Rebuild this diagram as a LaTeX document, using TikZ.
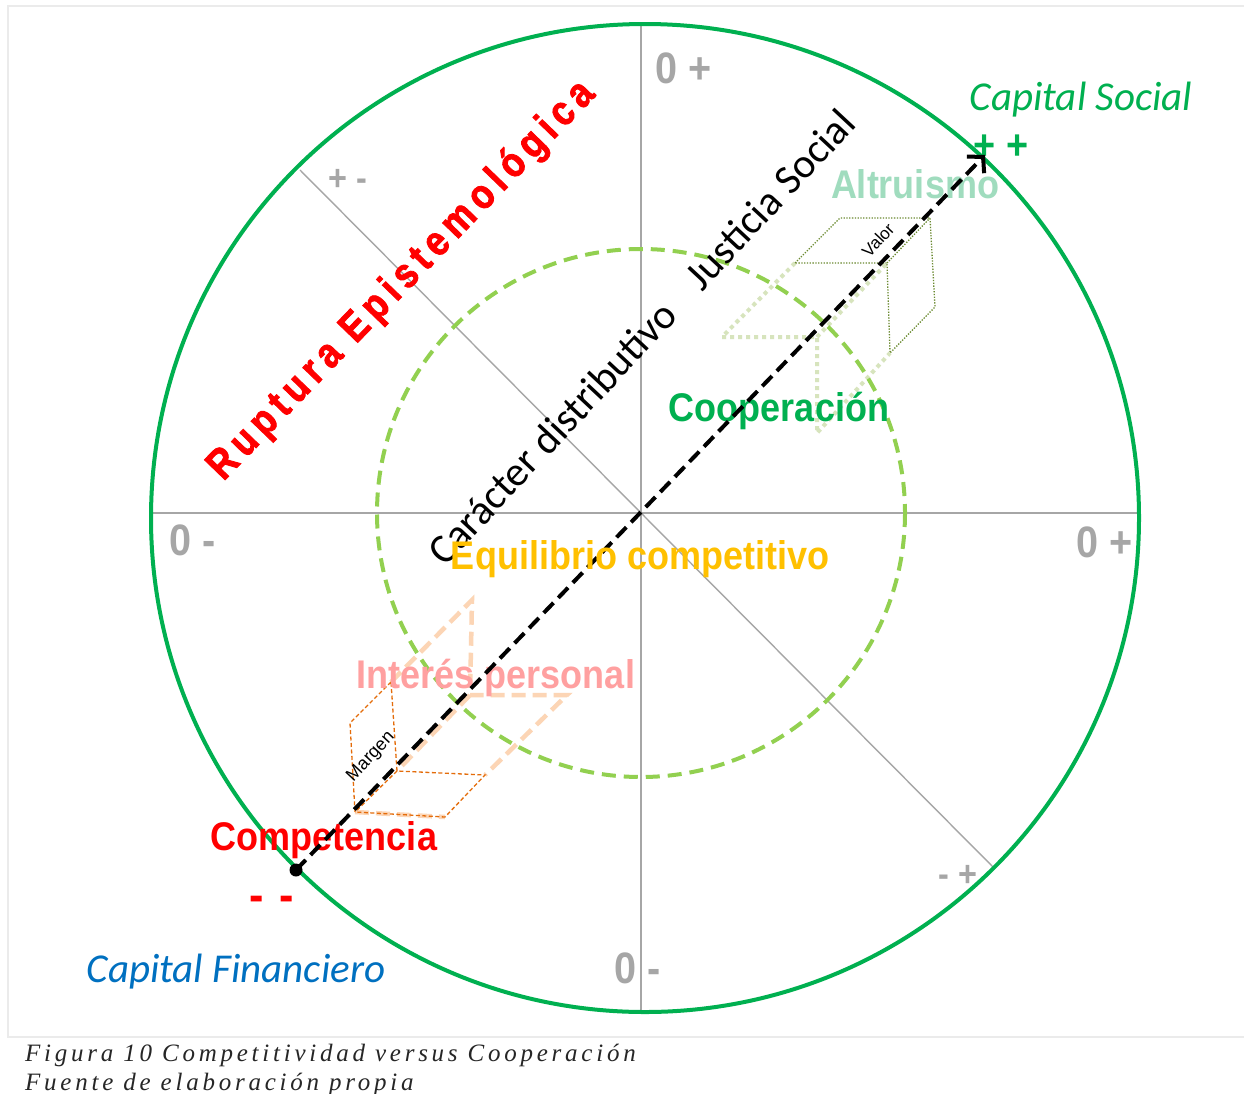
\documentclass[tikz,border=0pt]{standalone}
\usepackage{fontspec}
\usetikzlibrary{arrows.meta}
\setmainfont{Liberation Sans}
\newfontfamily\nbf[FakeStretch=0.9]{Liberation Sans}
\newfontfamily\carl{Carlito}
\newfontfamily\rupf[FakeStretch=0.85,LetterSpace=15,FakeBold=2]{Liberation Sans}
\newfontfamily\captf[LetterSpace=15]{Liberation Serif}
\definecolor{cgreen}{HTML}{00B050}
\definecolor{lgreen}{HTML}{92D050}
\definecolor{axgray}{HTML}{A6A6A6}
\definecolor{labgray}{HTML}{A6A6A6}
\definecolor{altru}{RGB}{160,220,190}
\definecolor{equi}{HTML}{FFC000}
\definecolor{inter}{RGB}{255,160,160}
\definecolor{cblue}{HTML}{0070C0}
\definecolor{olive}{HTML}{6B8A30}
\definecolor{paleolive}{HTML}{D7E4BD}
\definecolor{orng}{HTML}{E46C0A}
\definecolor{paleorng}{HTML}{FCD5B5}
\definecolor{framegray}{HTML}{EBEBEB}
\definecolor{captcol}{HTML}{262626}
\begin{document}
\begin{tikzpicture}[x=1pt,y=-1pt,
  lab/.style={font=\nbf\bfseries\fontsize{40}{44}\selectfont, inner sep=0pt, anchor=base},
  axlab/.style={font=\nbf\bfseries\fontsize{44}{48}\selectfont, inner sep=0pt, anchor=base, text=labgray},
  sign/.style={font=\nbf\bfseries\fontsize{36}{40}\selectfont, inner sep=0pt, anchor=base, text=labgray},
  capt/.style={font=\carl\itshape\fontsize{41}{45}\selectfont, inner sep=0pt, anchor=base},
  axline/.style={draw=axgray, line width=1.4},
  thinolive/.style={draw=olive, line width=1.3, dash pattern=on 1.3 off 1.5},
  paleolivel/.style={draw=paleolive, line width=4, dash pattern=on 4 off 4},
  thinorng/.style={draw=orng, line width=1.3, dash pattern=on 4 off 2.5},
  paleorngl/.style={draw=paleorng, line width=4.5, dash pattern=on 14 off 7},
  captline/.style={font=\captf\itshape\fontsize{25}{29}\selectfont, inner sep=0pt, anchor=base west, text=captcol}
]
\useasboundingbox (0,0) rectangle (1244,1093);
\fill[white] (0,0) rectangle (1244,1093);
\draw[framegray, line width=2.5] (8,6) rectangle (1262,1037);

% axes
\coordinate (O) at (641,513);
\coordinate (N) at (641,25);
\coordinate (S) at (641,1012);
\coordinate (W) at (153,513);
\coordinate (E) at (1140,513);
\coordinate (NW) at (300,170);
\coordinate (SE) at (993,867);
\draw[axline] (N) -- (S);
\draw[axline] (W) -- (E);
\draw[axline] (NW) -- (SE);

% outer circle
\coordinate (C0) at (645,518);
\draw[cgreen, line width=4] (C0) circle[radius=494];

% pale projections (top-right)
\coordinate (A) at (795,263);
\coordinate (B) at (840,218);
\coordinate (C) at (930,218);
\coordinate (D) at (935,307);
\coordinate (Ee) at (890,353);
\coordinate (F) at (887,263);
\coordinate (G) at (722,337);
\coordinate (H) at (817,337);
\coordinate (I) at (817,433);
\draw[paleolivel] (A) -- (G) -- (H) -- (I) -- (Ee);
\draw[paleolivel] (H) -- (F);

% pale projections (bottom-left)
\coordinate (P1) at (391,682);
\coordinate (P2) at (350,723);
\coordinate (P3) at (355,812);
\coordinate (P4) at (445,817);
\coordinate (P5) at (485,775);
\coordinate (P6) at (397,771);
\coordinate (Q1) at (472,600);
\coordinate (Q2) at (470,695);
\coordinate (Q3) at (567,695);
\draw[paleorngl] (P1) -- (Q1) -- (Q2) -- (Q3) -- (P5);
\draw[paleorngl] (P3) -- (P4);
\draw[paleorngl] (Q2) -- (P6);

% inner dashed circle
\draw[lgreen, line width=4, dash pattern=on 14 off 8] (O) circle[radius=264];

% thin boxes
\draw[thinolive] (A) -- (B) -- (C) -- (D) -- (Ee) -- (F) -- cycle;
\draw[thinolive] (F) -- (C);
\draw[thinorng] (P1) -- (P2) -- (P3) -- (P4) -- (P5) -- (P6) -- cycle;
\draw[thinorng] (P6) -- (P3);

% axis labels
\node[axlab] (ltop) at (684,83) {0 +};
\node[axlab] (lleft) at (193,555) {0 -};
\node[axlab] (lright) at (1105,557) {0 +};
\node[axlab] (lbot) at (638,983) {0 -};
\node[sign] (lnw) at (348,190) {+ -};
\node[sign] (lse) at (958,886) {- +};
\node[sign, text=cgreen, font=\nbf\bfseries\fontsize{42}{46}\selectfont] (lpp) at (1001,159) {+ +};
\node[sign, text=red, font=\nbf\bfseries\fontsize{48}{52}\selectfont] (lmm) at (272,911) {-\,\,-};

% main labels
\node[capt, text=cgreen] (capsoc) at (1081,110) {Capital Social};
\node[capt, text=cblue] (capfin) at (236,982) {Capital Financiero};
\node[lab, text=altru] (altr) at (915,198) {Altruismo};
\node[lab, text=cgreen] (coop) at (779,421) {Cooperación};
\node[lab, text=inter] (inte) at (496,688) {Interés personal};
\node[lab, text=red] (comp) at (324,850) {Competencia};

% rotated texts
\node[inner sep=0pt, rotate=47, font=\carl\fontsize{41.5}{45}\selectfont] (carac) at (641,337) {Carácter distributivo\hspace{0.6em} Justicia Social};
\node[inner sep=0pt, rotate=46, text=red, font=\rupf\bfseries\fontsize{42}{46}\selectfont] (rupt) at (402,281) {Ruptura Epistemológica};
\node[inner sep=0pt, rotate=47, font=\fontsize{17}{19}\selectfont] (valor) at (878,240) {Valor};
\node[inner sep=0pt, rotate=47, font=\fontsize{18}{20}\selectfont] (margen) at (371,757) {Margen};

% arrow
\coordinate (A0) at (296,870);
\coordinate (A1) at (985,155);
\draw[black, line width=4, dash pattern=on 14 off 7, -{Straight Barb[length=11pt,width=24pt,line width=4pt]}] (A0) -- (A1);
\fill[black] (A0) circle[radius=6.5];

\node[lab, text=equi] (equi) at (640,569) {Equilibrio competitivo};

% caption
\node[captline] (cap1) at (25,1061) {Figura 10 Competitividad versus Cooperación};
\node[captline] (cap2) at (25,1090) {Fuente de elaboración propia};
\end{tikzpicture}
\end{document}
